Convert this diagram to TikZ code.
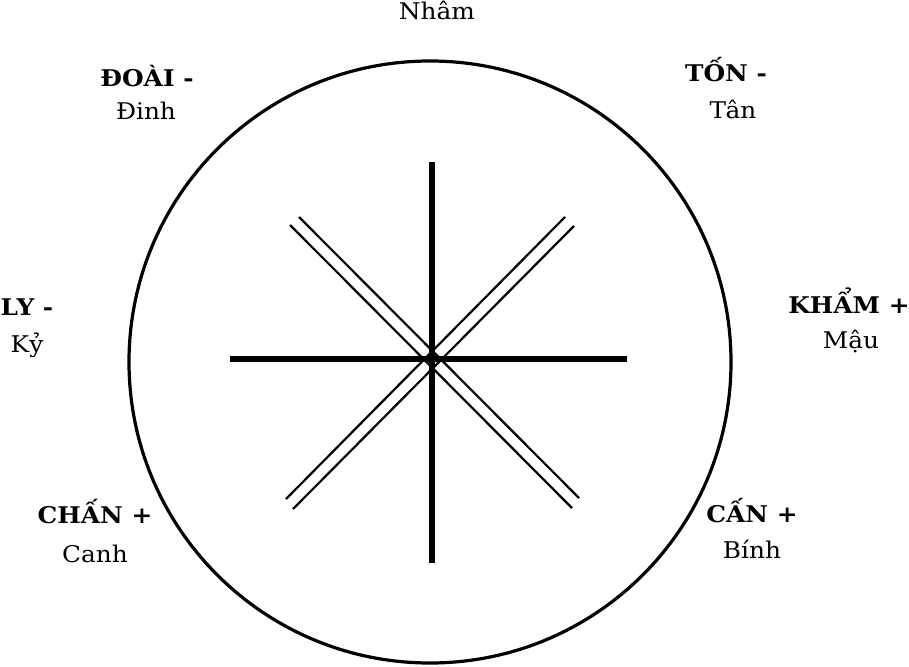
\documentclass[tikz,border=0pt]{standalone}
\usepackage{fontspec}
\setmainfont{DejaVu Serif}[FakeStretch=1.08]
\begin{document}
\begin{tikzpicture}[x=1pt,y=-1pt,
  thickline/.style={line width=6pt},
  thinline/.style={line width=2.2pt},
  ring/.style={line width=3.2pt},
  lbl/.style={anchor=base,inner sep=0pt,font=\fontsize{23}{28}\selectfont},
  blbl/.style={lbl,font=\fontsize{23}{28}\selectfont\bfseries}]
\useasboundingbox (0,0) rectangle (909,666);
\fill[white] (0,0) rectangle (909,666);
% circle
\node[circle,draw,ring,minimum size=602pt,inner sep=0pt] (ring) at (430,362) {};
% thick cross
\coordinate (vt) at (432,162);
\coordinate (vb) at (432,563);
\coordinate (hl) at (230,359);
\coordinate (hr) at (627,359);
\draw[thickline] (vt) -- (vb);
\draw[thickline] (hl) -- (hr);
% double diagonals
\coordinate (a1) at (299,217); \coordinate (a2) at (579,498);
\coordinate (b1) at (290,225); \coordinate (b2) at (572,508);
\coordinate (c1) at (565,217); \coordinate (c2) at (286,499);
\coordinate (d1) at (574,226); \coordinate (d2) at (293,509);
\draw[thinline] (a1) -- (a2);
\draw[thinline] (b1) -- (b2);
\draw[thinline] (c1) -- (c2);
\draw[thinline] (d1) -- (d2);
% labels
\node[lbl] (nham) at (437,20) {Nhâm};
\node[blbl] (doai) at (147,87) {ĐOÀI -};
\node[lbl] (dinh) at (146,120) {Đinh};
\node[blbl] (ton) at (726,82) {TỐN -};
\node[lbl] (tan) at (733,118) {Tân};
\node[blbl] (ly) at (27,315) {LY -};
\node[lbl] (ky) at (27,352) {Kỷ};
\node[blbl] (kham) at (849,313) {KHẨM +};
\node[lbl] (mau) at (851,348) {Mậu};
\node[blbl] (chan) at (95,523) {CHẤN +};
\node[lbl] (canh) at (95,562) {Canh};
\node[blbl] (can) at (752,522) {CẤN +};
\node[lbl] (binh) at (752,558) {Bính};
\end{tikzpicture}
\end{document}
